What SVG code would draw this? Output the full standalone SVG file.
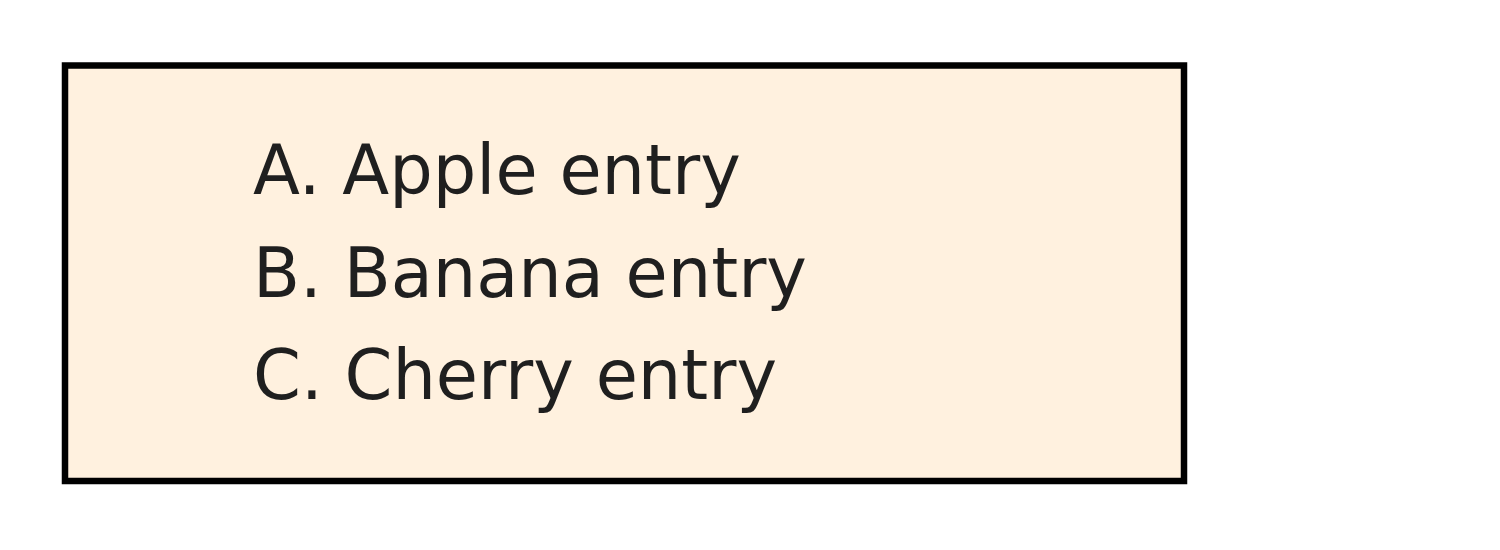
<svg xmlns="http://www.w3.org/2000/svg" width="1500" height="550" viewBox="0 0 1500 550">
  <style>
    .box { fill: #fff1df; stroke: #000000; stroke-width: 6.5; }
    .item { font-family: "DejaVu Sans", sans-serif; font-size: 68.6px; fill: #1f1f1f; }
  </style>
  <rect width="1500" height="550" fill="#ffffff"/>
  <g id="list-node">
    <rect class="box" x="65" y="65.5" width="1119" height="415.5"/>
    <text class="item" x="253" y="193.5">A. Apple entry</text>
    <text class="item" x="253" y="296.5">B. Banana entry</text>
    <text class="item" x="253" y="399">C. Cherry entry</text>
  </g>
  <g id="connectors"></g>
</svg>
